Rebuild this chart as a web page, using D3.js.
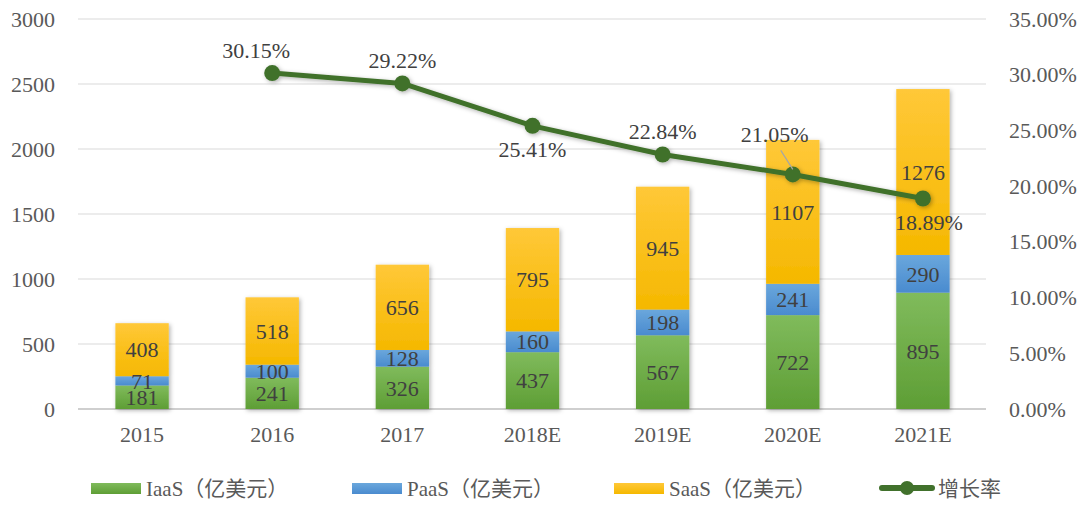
<!DOCTYPE html>
<html><head><meta charset="utf-8">
<script src="https://cdn.jsdelivr.net/npm/d3@7"></script>
<style>body{margin:0;background:#fff}svg{display:block}text{font-family:"Liberation Serif","Noto Sans CJK SC",serif}</style>
</head><body><svg id="c" width="1086" height="505"></svg>
<script>
const categories = ["2015","2016","2017","2018E","2019E","2020E","2021E"];
const iaas = [181,241,326,437,567,722,895];
const paas = [71,100,128,160,198,241,290];
const saas = [408,518,656,795,945,1107,1276];
const growth = [null,30.15,29.22,25.41,22.84,21.05,18.89];
const growthLabelPos = [null,"above","above","below","above","above","below"];
const leftTicks = [0,500,1000,1500,2000,2500,3000];
const rightTicks = [0,5,10,15,20,25,30,35];
const legendLabels = ["IaaS（亿美元）","PaaS（亿美元）","SaaS（亿美元）","增长率"];

const svg = d3.select("#c");
const x = d3.scaleBand().domain(categories).range([77,988]).paddingInner(0.59).paddingOuter(0.295);
const y = d3.scaleLinear().domain([0,3000]).range([409,19]);
const y2 = d3.scaleLinear().domain([0,35]).range([409,19]);

const defs = svg.append("defs");
function grad(id, top, bot){
  const g = defs.append("linearGradient").attr("id",id).attr("x1",0).attr("y1",0).attr("x2",0).attr("y2",1);
  g.append("stop").attr("offset","0%").attr("stop-color",top);
  g.append("stop").attr("offset","100%").attr("stop-color",bot);
}
grad("gI","#80bb5c","#5e9e35");
grad("gP","#6aa7dc","#4a8bcf");
grad("gS","#ffc838","#f5b800");
const f = defs.append("filter").attr("id","sh").attr("x","-20%").attr("y","-20%").attr("width","150%").attr("height","150%");
f.append("feDropShadow").attr("dx",1.5).attr("dy",1.5).attr("stdDeviation",2).attr("flood-color","#000").attr("flood-opacity",0.3);

// grid
svg.append("g").selectAll("line").data(leftTicks).join("line")
  .attr("x1",78).attr("x2",986).attr("y1",d=>y(d)).attr("y2",d=>y(d))
  .attr("stroke",d=>d===0?"#bfbfbf":"#d9d9d9").attr("stroke-width",d=>d===0?1.5:1.2);

function styleAxis(g){
  g.attr("font-family",null).attr("font-size",null);
  g.select(".domain").remove();
  g.selectAll("text").attr("font-size",22).attr("fill","#595959");
}
const la = d3.axisLeft(y).tickValues(leftTicks).tickFormat(d3.format("d")).tickSize(0).tickPadding(0);
svg.append("g").attr("transform","translate(55,0)").call(la).call(styleAxis);
const ra = d3.axisRight(y2).tickValues(rightTicks).tickFormat(d=>d.toFixed(2)+"%").tickSize(0).tickPadding(0);
svg.append("g").attr("transform","translate(1009,0)").call(ra).call(styleAxis);
const ba = d3.axisBottom(x).tickSize(0).tickPadding(0);
svg.append("g").attr("transform","translate(0,426)").call(ba).call(styleAxis);

// stacked bars
const rows = categories.map((c,i)=>({cat:c, iaas:iaas[i], paas:paas[i], saas:saas[i]}));
const stack = d3.stack().keys(["iaas","paas","saas"])(rows);
const fills = {iaas:"url(#gI)",paas:"url(#gP)",saas:"url(#gS)"};
const bars = svg.append("g");
categories.forEach((c,i)=>{
  const g = bars.append("g").attr("filter","url(#sh)");
  stack.forEach(s=>{
    const d = s[i];
    g.append("rect").attr("x",x(c)).attr("width",x.bandwidth())
      .attr("y",y(d[1])).attr("height",y(d[0])-y(d[1])).attr("fill",fills[s.key]);
  });
});
const lab = svg.append("g");
stack.forEach(s=>{
  s.forEach((d,i)=>{
    let cy = (y(d[0])+y(d[1]))/2;
    lab.append("text").attr("x",x(categories[i])+x.bandwidth()/2).attr("y",cy)
      .attr("dy","0.35em").attr("text-anchor","middle").attr("font-size",22).attr("fill","#404040")
      .text(d[1]-d[0]);
  });
});

// line
const pts = categories.map((c,i)=>({c,v:growth[i],pos:growthLabelPos[i]})).filter(d=>d.v!==null);
const line = d3.line().x(d=>x(d.c)+x.bandwidth()/2).y(d=>y2(d.v));
const lg = svg.append("g").attr("filter","url(#sh)");
lg.append("path").datum(pts).attr("d",line).attr("fill","none").attr("stroke","#41712c").attr("stroke-width",5).attr("stroke-linejoin","round");
lg.selectAll("circle").data(pts).join("circle").attr("cx",d=>x(d.c)+x.bandwidth()/2).attr("cy",d=>y2(d.v)).attr("r",8).attr("fill","#41712c");

// leader line for 2020E
const p20 = pts.find(d=>d.c==="2020E");
const cx20 = x(p20.c)+x.bandwidth()/2;
svg.append("line").attr("x1",cx20-12).attr("y1",y2(p20.v)-24).attr("x2",cx20).attr("y2",y2(p20.v)-5).attr("stroke","#a6a6a6").attr("stroke-width",1.2);

const gl = svg.append("g");
pts.forEach(d=>{
  const cx = x(d.c)+x.bandwidth()/2, cy = y2(d.v);
  let tx = cx, ty;
  if(d.c==="2020E"){ tx = cx-18; ty = cy-32; }
  else ty = d.pos==="above" ? cy-15 : cy+31;
  if(d.c==="2021E") tx = cx+6;
  if(d.c==="2016") tx = cx-16;
  gl.append("text").attr("x",tx).attr("y",ty).attr("text-anchor","middle").attr("font-size",22).attr("fill","#404040")
    .text(d.v.toFixed(2)+"%");
});

// legend
const leg = svg.append("g");
const lx = [91,352,614];
const lf = ["url(#gI)","url(#gP)","url(#gS)"];
[0,1,2].forEach(i=>{
  leg.append("rect").attr("x",lx[i]).attr("y",483).attr("width",50).attr("height",11).attr("fill",lf[i]);
  leg.append("text").attr("x",lx[i]+55).attr("y",496).attr("font-size",21).attr("fill","#595959").text(legendLabels[i]);
});
leg.append("line").attr("x1",882).attr("x2",932).attr("y1",488).attr("y2",488).attr("stroke","#41712c").attr("stroke-width",6).attr("stroke-linecap","round");
leg.append("circle").attr("cx",907).attr("cy",488).attr("r",7).attr("fill","#41712c");
leg.append("text").attr("x",938).attr("y",496).attr("font-size",21).attr("fill","#595959").text(legendLabels[3]);
</script></body></html>
